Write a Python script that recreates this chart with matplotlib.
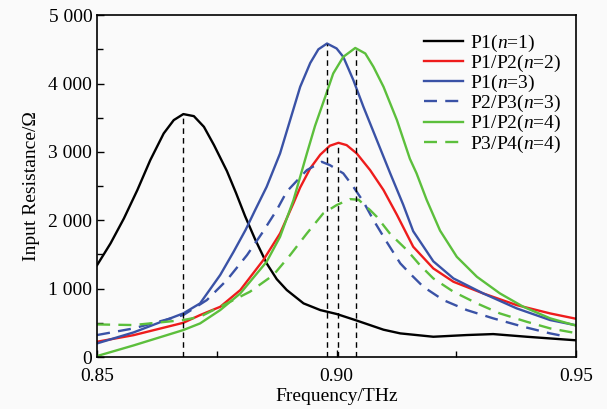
import matplotlib
matplotlib.use("Agg")
import matplotlib.pyplot as plt
from matplotlib.ticker import FuncFormatter, MultipleLocator

plt.rcParams['font.family'] = ['Liberation Serif', 'DejaVu Serif']
plt.rcParams['mathtext.fontset'] = 'custom'
plt.rcParams['mathtext.it'] = 'Liberation Serif:italic'
plt.rcParams['mathtext.rm'] = 'Liberation Serif'

# P1(n=1)
f_n1 = [0.8500, 0.8528, 0.8556, 0.8584, 0.8611, 0.8639, 0.8660, 0.8680, 0.8702, 0.8723,
        0.8744, 0.8771, 0.8790, 0.8809, 0.8830, 0.8854, 0.8875, 0.8896, 0.8931, 0.8966,
        0.9000, 0.9039, 0.9098, 0.9133, 0.9202, 0.9272, 0.9327, 0.9397, 0.9500]
r_n1 = [1345, 1662, 2028, 2442, 2880, 3270, 3465, 3553, 3523, 3367,
        3100, 2720, 2400, 2060, 1720, 1370, 1140, 980, 785, 687,
        630, 541, 400, 346, 297, 322, 336, 297, 245]

# P1/P2(n=2)
f_n2 = [0.8500, 0.8576, 0.8680, 0.8715, 0.8757, 0.8799, 0.8847, 0.8882, 0.8910, 0.8924,
        0.8945, 0.8966, 0.8986, 0.9004, 0.9021, 0.9042, 0.9070, 0.9098, 0.9126, 0.9160,
        0.9202, 0.9244, 0.9306, 0.9376, 0.9446, 0.9500]
r_n2 = [224, 320, 501, 614, 735, 980, 1418, 1808, 2250, 2480,
        2760, 2960, 3090, 3133, 3099, 2978, 2734, 2442, 2080, 1613,
        1296, 1101, 931, 760, 638, 560]

# P1(n=3)
f_n3 = [0.8500, 0.8576, 0.8680, 0.8715, 0.8757, 0.8785, 0.8810, 0.8830, 0.8854, 0.8882,
        0.8903, 0.8924, 0.8945, 0.8962, 0.8980, 0.9000, 0.9014, 0.9035, 0.9056, 0.9084,
        0.9112, 0.9139, 0.9160, 0.9202, 0.9244, 0.9306, 0.9376, 0.9446, 0.9500]
r_n3 = [200, 360, 639, 785, 1200, 1540, 1860, 2150, 2490, 2978,
        3465, 3952, 4300, 4500, 4585, 4513, 4390, 4050, 3660, 3173,
        2686, 2230, 1840, 1400, 1150, 931, 712, 541, 465]

# P2/P3(n=3)
f_n3b = [0.8500, 0.8576, 0.8680, 0.8729, 0.8771, 0.8813, 0.8844, 0.8875, 0.8896, 0.8938,
         0.8969, 0.8986, 0.9014, 0.9035, 0.9056, 0.9077, 0.9105, 0.9133, 0.9153, 0.9181,
         0.9223, 0.9272, 0.9327, 0.9390, 0.9446, 0.9481]
r_n3b = [322, 419, 614, 833, 1126, 1491, 1808, 2149, 2420, 2734,
         2855, 2807, 2686, 2490, 2271, 2003, 1680, 1370, 1223, 1028,
         833, 687, 566, 443, 346, 297]

# P1/P2(n=4)
f_n4 = [0.8500, 0.8576, 0.8680, 0.8715, 0.8757, 0.8799, 0.8854, 0.8882, 0.8910, 0.8938,
        0.8955, 0.8976, 0.8993, 0.9014, 0.9039, 0.9060, 0.9077, 0.9098, 0.9126, 0.9153,
        0.9167, 0.9188, 0.9216, 0.9251, 0.9293, 0.9341, 0.9390, 0.9446, 0.9500]
r_n4 = [15, 170, 395, 492, 687, 931, 1394, 1759, 2295, 2978,
        3380, 3800, 4147, 4390, 4520, 4439, 4244, 3952, 3465, 2900,
        2686, 2300, 1850, 1466, 1174, 931, 735, 566, 460]

# P3/P4(n=4)
f_n4b = [0.8500, 0.8576, 0.8680, 0.8715, 0.8771, 0.8819, 0.8868, 0.8903, 0.8938, 0.8972,
         0.9000, 0.9028, 0.9046, 0.9070, 0.9084, 0.9112, 0.9147, 0.9174, 0.9202, 0.9244,
         0.9293, 0.9341, 0.9397, 0.9446, 0.9500]
r_n4b = [477, 468, 541, 590, 785, 955, 1199, 1491, 1808, 2100,
         2222, 2310, 2300, 2149, 2051, 1800, 1564, 1345, 1150, 955,
         785, 638, 516, 419, 350]

# resonance markers (dashed verticals)
peak_f = [0.8680, 0.8980, 0.9004, 0.9040]
peak_r = [3553, 4585, 3133, 4520]

fig = plt.figure(figsize=(6.07, 4.09), dpi=100, facecolor='#fafafa')
ax = fig.add_axes([0.160, 0.127, 0.789, 0.836])
ax.set_facecolor('#fafafa')

lw = 1.7
dash = (0, (5.5, 3.5))
ax.plot(f_n1, r_n1, color='black', lw=lw, label='P1($n$=1)')
ax.plot(f_n2, r_n2, color='#ee1c1c', lw=lw, label='P1/P2($n$=2)')
ax.plot(f_n3, r_n3, color='#3a52a6', lw=lw, label='P1($n$=3)')
ax.plot(f_n3b, r_n3b, color='#3a52a6', lw=lw, ls=dash, label='P2/P3($n$=3)')
ax.plot(f_n4, r_n4, color='#5cbf3c', lw=lw, label='P1/P2($n$=4)')
ax.plot(f_n4b, r_n4b, color='#5cbf3c', lw=lw, ls=dash, label='P3/P4($n$=4)')

for pf, pr in zip(peak_f, peak_r):
    ax.plot([pf, pf], [0, pr], color='black', lw=1, ls=(0, (4, 3)))

ax.set_xlim(0.85, 0.95)
ax.set_ylim(0, 5000)
ax.xaxis.set_major_locator(MultipleLocator(0.05))
ax.xaxis.set_minor_locator(MultipleLocator(0.025))
ax.yaxis.set_major_locator(MultipleLocator(1000))
ax.yaxis.set_minor_locator(MultipleLocator(500))
ax.xaxis.set_major_formatter(FuncFormatter(lambda v, p: f"{v:.2f}"))
ax.yaxis.set_major_formatter(FuncFormatter(lambda v, p: f"{int(v):,}".replace(',', ' ')))
ax.tick_params(which='both', direction='in', labelsize=14, width=1)
ax.tick_params(which='major', length=5)
ax.tick_params(which='minor', length=4)
ax.tick_params(axis='x', which='major', pad=8)
ax.tick_params(axis='x', which='minor', labelbottom=False)
for s in ax.spines.values():
    s.set_linewidth(1.2)

ax.set_xlabel('Frequency/THz', fontsize=14, labelpad=2)
ax.set_ylabel('Input Resistance/Ω', fontsize=14, labelpad=6)

ax.legend(loc='upper right', frameon=False, fontsize=14, handlelength=2.0,
          handletextpad=0.35, labelspacing=-0.05, borderaxespad=0.5,
          bbox_to_anchor=(1.005, 1.0))

fig.savefig('out.png', dpi=100, facecolor=fig.get_facecolor())
